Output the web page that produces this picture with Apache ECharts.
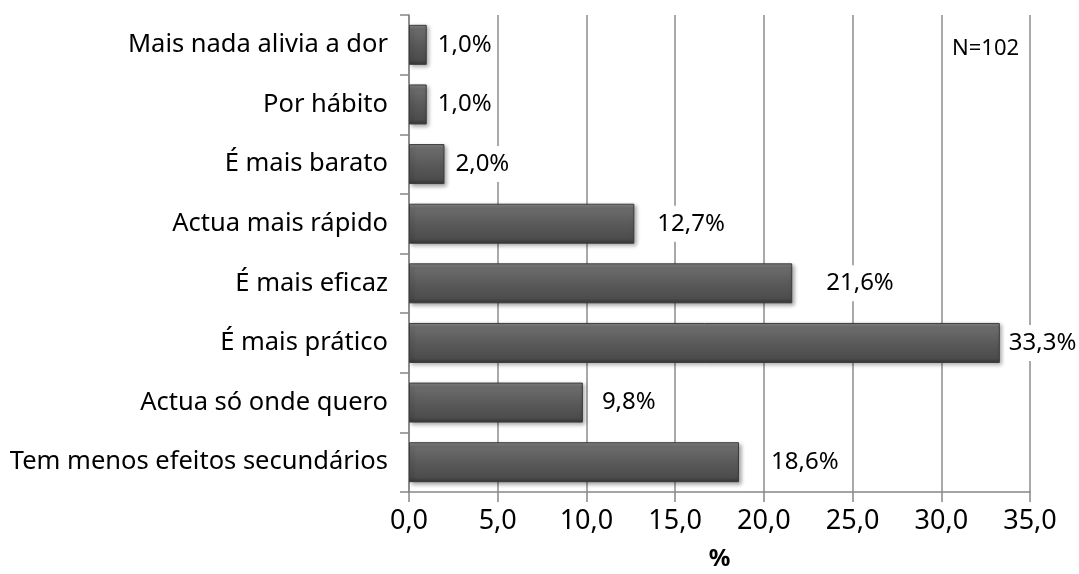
<!DOCTYPE html>
<html>
<head>
<meta charset="utf-8">
<script src="https://cdn.jsdelivr.net/npm/echarts@6/dist/echarts.min.js"></script>
<style>
  html, body { margin: 0; padding: 0; background: #fff; }
  #chart { width: 1079px; height: 574px; }
</style>
</head>
<body>
<div id="chart"></div>
<script>
// categories top to bottom
const categories = [
  'Mais nada alivia a dor',
  'Por hábito',
  'É mais barato',
  'Actua mais rápido',
  'É mais eficaz',
  'É mais prático',
  'Actua só onde quero',
  'Tem menos efeitos secundários'
]
const values = [1.0, 1.0, 2.0, 12.7, 21.6, 33.3, 9.8, 18.6]
const xTicks = [0, 5, 10, 15, 20, 25, 30, 35]
// gap between bar end and its label (the original labels were nudged by hand)
const labelGaps = [11, 11, 11, 23, 34, 9, 19, 32]

const fmt = v => v.toFixed(1).replace('.', ',')
const font = 'Noto Sans'

const chart = echarts.init(document.getElementById('chart'))

const barData = values.map((v, i) => ({
  value: v,
  label: { distance: labelGaps[i] - 4 }
}))

chart.setOption({
  animation: false,
  grid: { left: 409, right: 49, top: 15, bottom: 82, outerBoundsMode: 'none' },
  xAxis: {
    type: 'value',
    min: xTicks[0],
    max: xTicks[xTicks.length - 1],
    interval: 5,
    name: '%',
    nameLocation: 'middle',
    nameGap: 55,
    nameTextStyle: { fontFamily: font, fontSize: 24, fontWeight: 'bold', color: '#000' },
    axisLine: { show: true, lineStyle: { color: '#868686', width: 1.5 } },
    axisTick: { show: true, length: 10, lineStyle: { color: '#868686', width: 1.5 } },
    axisLabel: { fontFamily: font, fontSize: 27, color: '#000', margin: 16, formatter: v => fmt(v) },
    splitLine: { show: true, lineStyle: { color: '#8c8c8c', width: 1.5 } }
  },
  yAxis: {
    type: 'category',
    data: categories,
    inverse: true,
    axisLine: { show: true, lineStyle: { color: '#868686', width: 1.5 } },
    axisTick: { show: true, length: 9, lineStyle: { color: '#868686', width: 1.5 } },
    axisLabel: { fontFamily: font, fontSize: 25.5, color: '#000', margin: 21 }
  },
  series: [{
    type: 'bar',
    data: barData,
    barWidth: 40,
    itemStyle: {
      color: new echarts.graphic.LinearGradient(0, 0, 0, 1, [
        { offset: 0, color: '#858585' },
        { offset: 0.12, color: '#6c6c6c' },
        { offset: 0.5, color: '#5a5a5a' },
        { offset: 0.88, color: '#4c4c4c' },
        { offset: 1, color: '#363636' }
      ]),
      borderColor: '#3c3c3c',
      borderWidth: 1,
      shadowColor: 'rgba(0,0,0,0.35)',
      shadowBlur: 4,
      shadowOffsetX: 2,
      shadowOffsetY: 2
    },
    label: {
      show: true,
      position: 'right',
      fontFamily: font,
      fontSize: 24,
      color: '#000',
      backgroundColor: '#fff',
      padding: [6, 4],
      formatter: p => fmt(p.value) + '%'
    }
  }],
  graphic: [{
    type: 'text',
    left: 952,
    top: 38,
    style: { text: 'N=102', fontFamily: font, fontSize: 22, fill: '#000' }
  }]
})
</script>
</body>
</html>
